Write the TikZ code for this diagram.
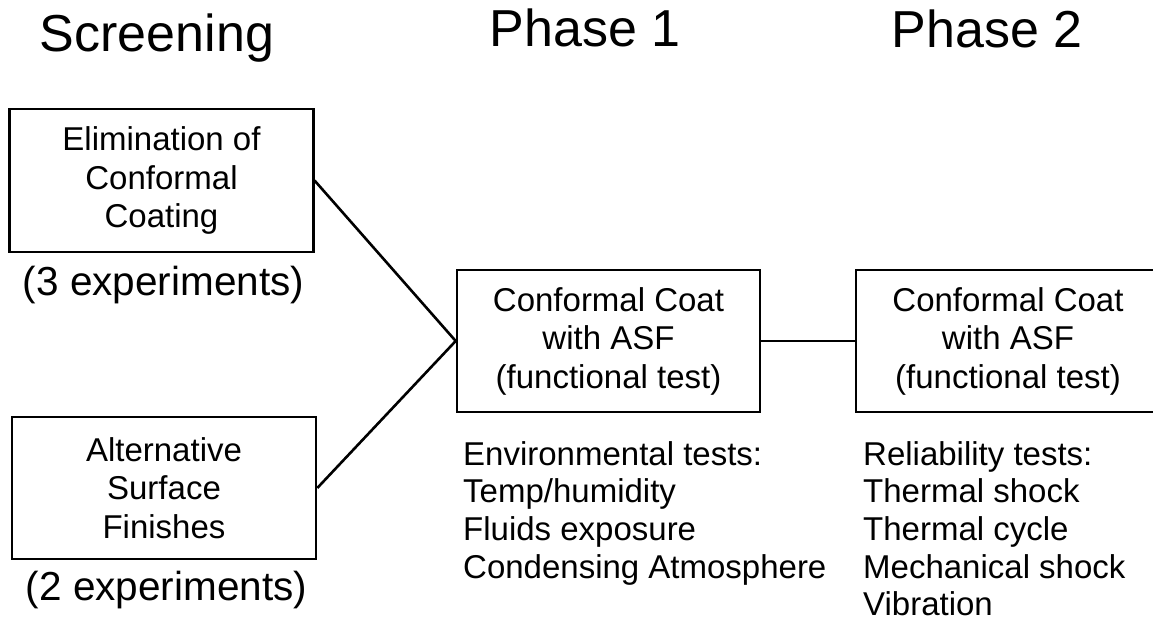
\documentclass[tikz,border=0pt]{standalone}
\usepackage{fontspec}
\setmainfont{Liberation Sans}
\begin{document}
\begin{tikzpicture}[x=1pt,y=-1pt,
  box/.style={draw, line width=2.6pt, inner sep=0pt, align=center, font=\fontsize{33}{38.5}\selectfont},
  title/.style={anchor=base, inner sep=0pt, font=\fontsize{52}{60}\selectfont},
  count/.style={anchor=base, inner sep=0pt, font=\fontsize{40.5}{48}\selectfont},
  list/.style={anchor=base west, inner sep=0pt, font=\fontsize{33}{37.7}\selectfont},
  link/.style={line width=2.6pt}]
\useasboundingbox (0,0) rectangle (1153,628);
\fill[white] (0,0) rectangle (1153,628);
\clip (0,0) rectangle (1153,628);

\node[title] (tscr) at (157,52) {Screening};
\node[title] (tp1) at (585,47) {Phase 1};
\node[title] (tp2) at (987,48) {Phase 2};

\node[box, minimum width=303.5pt, minimum height=143pt] (elim) at (161.5,180.5) {Elimination of\\Conformal\\Coating};
\node[box, minimum width=304pt, minimum height=142pt] (alt) at (164,488) {Alternative\\Surface\\Finishes};
\node[box, minimum width=303pt, minimum height=142pt] (p1) at (608.5,341) {Conformal Coat\\with ASF\\(functional test)};
\node[box, minimum width=304pt, minimum height=142pt] (p2) at (1008,341) {Conformal Coat\\with ASF\\(functional test)};

\node[count] (c3) at (163.5,295) {(3 experiments)};
\node[count] (c2) at (166.5,600) {(2 experiments)};

\node[list] (env) at (463,465) {\begin{tabular}[t]{@{}l@{}}Environmental tests:\\Temp/humidity\\Fluids exposure\\Condensing Atmosphere\end{tabular}};
\node[list] (rel) at (863,465) {\begin{tabular}[t]{@{}l@{}}Reliability tests:\\Thermal shock\\Thermal cycle\\Mechanical shock\\Vibration\end{tabular}};

\draw[link] (elim.east) -- (p1.west);
\draw[link] (alt.east) -- (p1.west);
\draw[link] (p1.east) -- (p2.west);
\end{tikzpicture}
\end{document}
